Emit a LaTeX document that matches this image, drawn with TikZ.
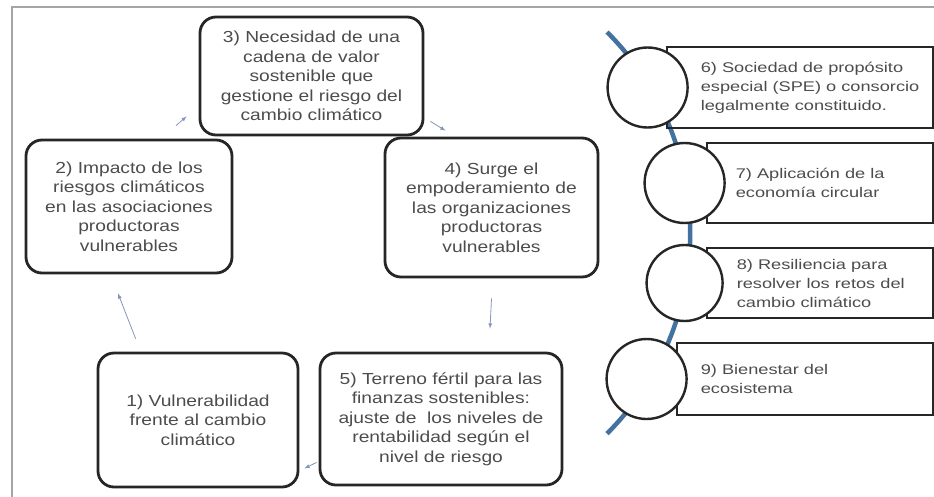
\documentclass[tikz,border=0pt]{standalone}
\usepackage{fontspec}
\usepackage{tikz}
\usetikzlibrary{arrows, calc}
\newfontfamily\stagefont[FakeStretch=1.2]{Liberation Sans}
\newfontfamily\resultfont[FakeStretch=1.3]{Liberation Sans}
\definecolor{spineblue}{RGB}{68,114,160}
\definecolor{flowblue}{RGB}{130,150,182}
\definecolor{framegray}{RGB}{165,165,165}

\begin{document}
\begin{tikzpicture}[x=1pt, y=-1pt]
	\tikzstyle{stage}=[rectangle, rounded corners=16pt, line width=2.8pt, draw=black!85, align=center, text=black!70, font=\stagefont\fontsize{16}{19.5}\selectfont]
	\tikzstyle{result}=[rectangle, line width=2.8pt, draw=black!85]
	\tikzstyle{ring}=[circle, minimum size=80pt, inner sep=0pt, line width=2.4pt, draw=black!85, fill=white]
	\tikzstyle{resulttext}=[anchor=west, align=left, inner sep=0pt, text=black!70, font=\resultfont\fontsize{14}{19}\selectfont]
	\tikzstyle{connect}=[-latex, line width=0.8pt, draw=flowblue]
	\tikzstyle{spine}=[line width=4.5pt, draw=spineblue]
	\tikzstyle{frame}=[line width=2pt, draw=framegray]
	\useasboundingbox (0,0) rectangle (934,496);
	\clip (0,0) rectangle (934,496);
	\draw[frame] (12,7) rectangle (960,520);
	% the cycle
	\node[stage, minimum width=223pt, minimum height=118pt] (cadena) at (311.5,76) {3) Necesidad de una\\cadena de valor\\sostenible que\\gestione el riesgo del\\cambio climático};
	\node[stage, minimum width=206pt, minimum height=133pt] (impacto) at (129,206.5) {2) Impacto de los\\riesgos climáticos\\en las asociaciones\\productoras\\vulnerables};
	\node[stage, minimum width=213pt, minimum height=139pt] (empod) at (491.5,207.5) {4) Surge el\\empoderamiento de\\las organizaciones\\productoras\\vulnerables};
	\node[stage, minimum width=200pt, minimum height=134pt] (vuln) at (198,420) {1) Vulnerabilidad\\frente al cambio\\climático};
	\node[stage, minimum width=242pt, minimum height=132pt] (finanzas) at (441,419) {5) Terreno fértil para las\\finanzas sostenibles:\\ajuste de~ los niveles de\\rentabilidad según el\\nivel de riesgo};
	\draw[connect] ([xshift=39pt,yshift=13pt]vuln.north west) -- ([xshift=-11pt,yshift=-19pt]impacto.south);
	\draw[connect] ([xshift=47pt,yshift=13pt]impacto.north) -- ([xshift=-12pt,yshift=20pt]cadena.south west);
	\draw[connect] ([xshift=6pt,yshift=15pt]cadena.south east) -- ([xshift=-46pt,yshift=6pt]empod.north);
	\draw[connect] ([yshift=-20pt]empod.south) -- ([xshift=49pt,yshift=23pt]finanzas.north);
	\draw[connect] ([xshift=-2pt,yshift=24pt]finanzas.south west) -- ([xshift=5pt,yshift=20pt]vuln.south east);
	% the outcomes
	\coordinate (spine-top) at (607,32);
	\draw[spine] (spine-top) arc[start angle=-45, end angle=45, radius=284];
	\node[result, minimum width=266pt, minimum height=81pt] (spe) at (800,87.5) {};
	\node[result, minimum width=226pt, minimum height=80pt] (circular) at (820,183) {};
	\node[result, minimum width=226pt, minimum height=70pt] (resil) at (820,283) {};
	\node[result, minimum width=256pt, minimum height=72pt] (bienestar) at (805,379) {};
	\node[ring] (ring-spe) at ([xshift=-18pt]spe.west) {};
	\node[ring] (ring-circular) at ([xshift=-21pt]circular.west) {};
	\node[ring, minimum size=76pt] (ring-resil) at ([xshift=-21pt]resil.west) {};
	\node[ring] (ring-bienestar) at ([xshift=-29pt]bienestar.west) {};
	\node[resulttext] (txt-spe) at ([xshift=35pt]spe.west) {6) Sociedad de propósito\\especial (SPE) o consorcio\\legalmente constituido.};
	\node[resulttext] (txt-circular) at ([xshift=30pt]circular.west) {7) Aplicación de la\\economía circular};
	\node[resulttext] (txt-resil) at ([xshift=31pt]resil.west) {8) Resiliencia para\\resolver los retos del\\cambio climático};
	\node[resulttext] (txt-bienestar) at ([xshift=25pt]bienestar.west) {9) Bienestar del\\ecosistema};
\end{tikzpicture}
\end{document}
